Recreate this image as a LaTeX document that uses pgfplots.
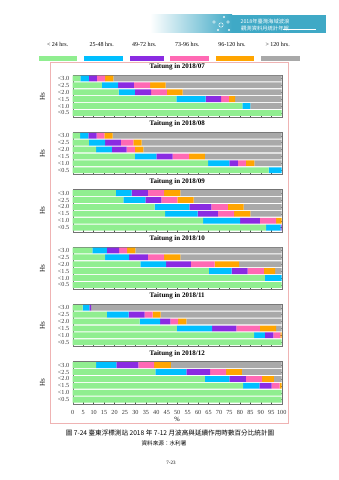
\documentclass[border=0pt]{standalone}
\usepackage{fontspec}
\setmainfont{Liberation Serif}
\newfontfamily\cjk{Noto Sans CJK TC}
\usepackage{pgfplots}
\usepackage{pgfplotstable}
\pgfplotsset{compat=1.18}
\definecolor{cg}{HTML}{90EE90}
\definecolor{cb}{HTML}{00BFFF}
\definecolor{cp}{HTML}{8A2BE2}
\definecolor{ck}{HTML}{FF69B4}
\definecolor{co}{HTML}{FFA500}
\definecolor{cr}{HTML}{A9A9A9}
\definecolor{framec}{HTML}{EFB3B3}
\definecolor{banner}{HTML}{3FA9C6}

% widths of segments: <24, 25-48, 49-72, 73-96, 96-120, >120 hrs
\pgfplotstableread{
y g b p k o r
6 3.7 4.0 3.9 3.9 4.0 80.5
5 13.9 7.8 7.6 7.7 7.5 55.5
4 22.0 7.8 7.7 7.6 7.5 47.4
3 49.6 14.0 7.4 3.8 2.9 22.3
2 81.2 3.8 0 0 0 15.0
1 100 0 0 0 0 0
}\tjul
\pgfplotstableread{
y g b p k o r
6 3.5 4.0 4.0 3.7 3.9 80.9
5 7.7 7.8 7.6 5.9 4.0 67.0
4 11.2 7.5 7.1 4.0 4.0 66.2
3 29.8 10.2 7.8 7.9 7.6 36.7
2 64.8 10.2 4.0 3.9 4.0 13.1
1 93.8 6.2 0 0 0 0
}\taug
\pgfplotstableread{
y g b p k o r
6 20.6 7.6 7.8 7.7 7.8 48.5
5 24.2 10.6 7.6 7.7 7.8 42.1
4 39.2 16.6 10.5 7.9 7.6 18.2
3 44.2 15.6 9.7 7.7 7.8 15.0
2 62.4 17.7 9.5 7.7 2.7 0
1 92.5 7.0 0.5 0 0 0
}\tsep
\pgfplotstableread{
y g b p k o r
6 9.4 7.0 5.8 3.8 4.0 70.0
5 15.5 11.5 9.0 7.7 7.8 48.5
4 32.4 12.3 11.8 11.4 11.7 20.4
3 65.2 10.9 7.6 7.8 5.3 3.2
2 92.0 8.0 0 0 0 0
1 100 0 0 0 0 0
}\toct
\pgfplotstableread{
y g b p k o r
6 4.8 3.2 0.8 0 0 91.2
5 16.4 10.4 7.6 3.9 3.8 57.9
4 32.0 9.8 4.9 3.7 4.0 45.6
3 49.9 16.8 11.6 11.3 7.7 2.7
2 86.8 5.2 4.0 3.4 0.6 0
1 100 0 0 0 0 0
}\tnov
\pgfplotstableread{
y g b p k o r
6 11.2 9.7 10.5 7.5 8.1 53.0
5 39.6 14.8 11.3 7.7 7.6 19.0
4 63.2 11.8 7.8 7.8 5.7 3.7
3 81.5 7.8 5.9 3.8 1.0 0
2 100 0 0 0 0 0
1 100 0 0 0 0 0
}\tdec

\pgfplotsset{
 every axis title shift=0pt,
 hsaxis/.style={
  xbar stacked, scale only axis, width=209pt, height=42.4pt,
  xmin=0, xmax=100, ymin=0.35, ymax=6.5,
  bar width=5.8pt,
  ytick={1,2,3,4,5,6},
  yticklabels={<0.5,<1.0,<1.5,<2.0,<2.5,<3.0},
  xtick={0,5,...,100},
  xticklabels={},
  xtick pos=bottom,
  ytick pos=right,
  yticklabel pos=left,
  tick align=inside, major tick length=2pt,
  tick style={color=black!70, line width=0.3pt},
  axis line style={color=black!55, line width=0.4pt},
  ylabel={Hs},
  ylabel style={at={(axis description cs:-0.145,0.5)}, anchor=center, font=\fontsize{7}{7}\selectfont},
  tick label style={font=\fontsize{6.2}{6.2}\selectfont, color=black!80},
  title style={at={(axis description cs:0.5,1)}, anchor=south, yshift=1.5pt, font=\bfseries\fontsize{7}{7}\selectfont},
  /pgf/number format/assume math mode=true,
  anchor=north west,
 }
}
\newcommand{\hsbars}[1]{%
 \addplot[fill=cg,draw=none] table[x=g,y=y]{#1};
 \addplot[fill=cb,draw=none] table[x=b,y=y]{#1};
 \addplot[fill=cp,draw=none] table[x=p,y=y]{#1};
 \addplot[fill=ck,draw=none] table[x=k,y=y]{#1};
 \addplot[fill=co,draw=none] table[x=o,y=y]{#1};
 \addplot[fill=cr,draw=none] table[x=r,y=y]{#1};
}

\begin{document}
\begin{tikzpicture}
\path[use as bounding box] (0,0) rectangle (339pt,480pt);

% header banner
\shade[left color=white, right color=banner] (150pt,447pt) rectangle (232pt,465pt);
\fill[banner] (231.5pt,447pt) rectangle (326pt,465pt);
\foreach \cx/\cy/\r in {214/458/1.4, 221/455/2.2, 228/458/1.4, 224/463/0.9, 218/450/0.9, 229/450/0.9}
  \draw[white, line width=0.4pt] (\cx pt,\cy pt) circle (\r pt);
\node[white, font=\cjk\fontsize{5.3}{5.5}\selectfont] at (265pt,458.5pt) {2018年臺灣海域波浪};
\node[white, font=\cjk\fontsize{5.3}{5.5}\selectfont] at (265pt,452pt) {觀測資料月統計年報};
\draw[white, line width=0.3pt] (283pt,450.5pt) -- (316pt,450.5pt);

% outer frame
\draw[framec, line width=0.8pt] (50.7pt,418pt) rectangle (288pt,57pt);

% legend
\foreach \x/\lab in {57.7/{< 24 hrs.}, 101.7/{25-48 hrs.}, 144.3/{49-72 hrs.}, 187.3/{73-96 hrs.}, 232/{96-120 hrs.}, 277.7/{> 120 hrs.}}
  \node[font=\fontsize{6}{6}\selectfont] at (\x pt,436pt) {\lab};
\fill[cg] (39pt,419.3pt) rectangle (77.3pt,424.3pt);
\fill[cb] (84pt,419.3pt) rectangle (122.7pt,424.3pt);
\fill[cp] (129.7pt,419.3pt) rectangle (163.7pt,424.3pt);
\fill[ck] (170.3pt,419.3pt) rectangle (209pt,424.3pt);
\fill[co] (215.7pt,419.3pt) rectangle (254.3pt,424.3pt);
\fill[cr] (261.3pt,419.3pt) rectangle (300pt,424.3pt);

\begin{axis}[hsaxis, at={(72.7pt,405pt)}, title={Taitung in 2018/07}]
\hsbars{\tjul}
\end{axis}
\begin{axis}[hsaxis, at={(72.7pt,347.7pt)}, title={Taitung in 2018/08}]
\hsbars{\taug}
\end{axis}
\begin{axis}[hsaxis, at={(72.7pt,290.3pt)}, title={Taitung in 2018/09}]
\hsbars{\tsep}
\end{axis}
\begin{axis}[hsaxis, at={(72.7pt,233pt)}, title={Taitung in 2018/10}]
\hsbars{\toct}
\end{axis}
\begin{axis}[hsaxis, at={(72.7pt,175.7pt)}, title={Taitung in 2018/11}]
\hsbars{\tnov}
\end{axis}
\begin{axis}[hsaxis, at={(72.7pt,118.3pt)}, title={Taitung in 2018/12},
  xticklabels={0,5,10,15,20,25,30,35,40,45,50,55,60,65,70,75,80,85,90,95,100},
  xticklabel style={yshift=-2.5pt},
  xlabel={\%},
  xlabel style={at={(axis description cs:0.5,-0.35)}, anchor=center, font=\fontsize{6.5}{6.5}\selectfont}]
\hsbars{\tdec}
\end{axis}

% caption
\node[font=\cjk\fontsize{6.6}{7}\selectfont] at (170pt,47pt) {圖 7-24 臺東浮標測站 2018 年 7-12 月波高與延續作用時數百分比統計圖};
\node[font=\cjk\fontsize{5.6}{6}\selectfont] at (164pt,37pt) {資料來源：水利署};
\node[font=\fontsize{5}{5}\selectfont] at (171pt,16.7pt) {7-23};
\end{tikzpicture}
\end{document}
